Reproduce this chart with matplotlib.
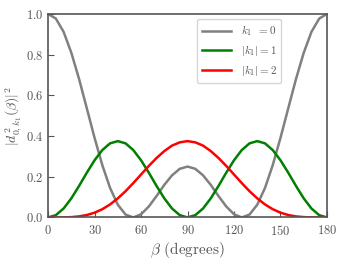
import matplotlib
matplotlib.use('Agg')
import matplotlib.pyplot as plt

plt.rcParams['font.family'] = 'serif'
plt.rcParams['font.serif'] = ['cmr10']
plt.rcParams['mathtext.fontset'] = 'cm'
plt.rcParams['axes.formatter.use_mathtext'] = True

# beta in degrees
beta = [0, 5, 10, 15, 20, 25, 30, 35, 40, 45, 50, 55, 60, 65, 70, 75, 80, 85, 90,
        95, 100, 105, 110, 115, 120, 125, 130, 135, 140, 145, 150, 155, 160, 165, 170, 175, 180]

k0 = [1.0, 0.977, 0.912, 0.809, 0.680, 0.536, 0.391, 0.257, 0.145, 0.0625, 0.0143, 0.0, 0.0156,
      0.0539, 0.105, 0.160, 0.207, 0.239, 0.25,
      0.239, 0.207, 0.160, 0.105, 0.0539, 0.0156, 0.0, 0.0143, 0.0625, 0.145, 0.257, 0.391,
      0.536, 0.680, 0.809, 0.912, 0.977, 1.0]

k1 = [0.0, 0.0113, 0.0439, 0.0938, 0.155, 0.220, 0.281, 0.331, 0.364, 0.375, 0.364, 0.331, 0.281,
      0.220, 0.155, 0.0938, 0.0439, 0.0113, 0.0,
      0.0113, 0.0439, 0.0938, 0.155, 0.220, 0.281, 0.331, 0.364, 0.375, 0.364, 0.331, 0.281,
      0.220, 0.155, 0.0938, 0.0439, 0.0113, 0.0]

k2 = [0.0, 0.0, 0.0003, 0.0017, 0.0051, 0.0120, 0.0234, 0.0406, 0.0640, 0.0938, 0.129, 0.169, 0.211,
      0.253, 0.292, 0.326, 0.353, 0.369, 0.375,
      0.369, 0.353, 0.326, 0.292, 0.253, 0.211, 0.169, 0.129, 0.0938, 0.0640, 0.0406, 0.0234,
      0.0120, 0.0051, 0.0017, 0.0003, 0.0, 0.0]

labels = [r'$k_1\;\;=0$', r'$|k_1|=1$', r'$|k_1|=2$']
colors = ['gray', 'green', 'red']

txt = '#555555'

fig = plt.figure(figsize=(3.46, 2.62), dpi=100)
ax = fig.add_axes([0.139, 0.17, 0.806, 0.777])

for y, lab, c in zip([k0, k1, k2], labels, colors):
    ax.plot(beta, y, color=c, linewidth=1.8, label=lab)

ax.set_xlim(0, 180)
ax.set_ylim(0, 1)
ax.set_xticks([0, 30, 60, 90, 120, 150, 180])
ax.set_yticks([0.0, 0.2, 0.4, 0.6, 0.8, 1.0])
ax.tick_params(direction='in', colors=txt, labelsize=9, length=4)
ax.tick_params(axis='x', pad=5)
for s in ax.spines.values():
    s.set_color(txt)
    s.set_linewidth(1.2)

ax.set_xlabel(r'$\beta$ (degrees)', color=txt, fontsize=11, labelpad=1)
ax.set_ylabel(r'$|d^{\,2}_{0,k_1}(\beta)|^2$', color=txt, fontsize=10, labelpad=1)

leg = ax.legend(loc='upper right', bbox_to_anchor=(0.835, 0.975), borderaxespad=0,
                fontsize=8, handlelength=2.6, handletextpad=0.9, labelspacing=0.45,
                borderpad=0.4)
for t in leg.get_texts():
    t.set_color(txt)

fig.savefig('out.png', dpi=100)
